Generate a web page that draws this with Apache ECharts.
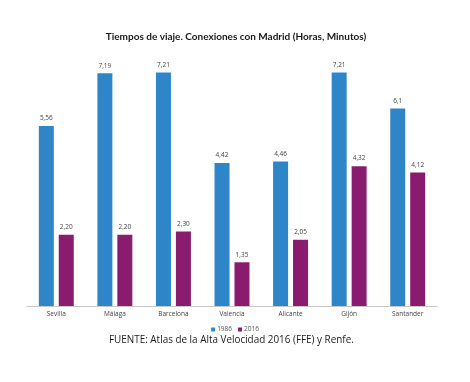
<!DOCTYPE html>
<html><head><meta charset="utf-8">
<script src="https://cdn.jsdelivr.net/npm/echarts@6/dist/echarts.min.js"></script>
<style>html,body{margin:0;padding:0;background:#fff}#c{width:470px;height:382px}</style>
</head><body><div id="c"></div>
<script>
const categories = ['Sevilla','Málaga','Barcelona','Valencia','Alicante','Gijón','Santander'];
const values1986 = [5.56, 7.19, 7.21, 4.42, 4.46, 7.21, 6.1];
const values2016 = [2.20, 2.20, 2.30, 1.35, 2.05, 4.32, 4.12];
const labels1986 = ['5,56','7,19','7,21','4,42','4,46','7,21','6,1'];
const labels2016 = ['2,20','2,20','2,30','1,35','2,05','4,32','4,12'];
const seriesNames = ['1986','2016'];

const chart = echarts.init(document.getElementById('c'));
const lblStyle = {show:true, position:'top', distance:4, fontSize:6.5, color:'#444', fontFamily:'Open Sans'};
chart.setOption({
  animation:false,
  title:{text:'Tiempos de viaje. Conexiones con Madrid (Horas, Minutos)', left:231, textAlign:'center', top:27,
    textStyle:{fontSize:10, fontWeight:'bold', color:'#1a1a1a', fontFamily:'Lato'}},
  legend:{data:seriesNames, left:'center', top:321, itemWidth:4, itemHeight:4, itemGap:6,
    textStyle:{fontSize:6.5, color:'#555', fontFamily:'Open Sans', padding:[0,0,0,-3]}, icon:'rect'},
  grid:{left:27, right:33, top:47, bottom:76},
  xAxis:{type:'category', data:categories, axisTick:{show:false},
    axisLine:{lineStyle:{color:'#c8c8c8', width:1}},
    axisLabel:{fontSize:6.5, color:'#444', margin:5, fontFamily:'Open Sans'}},
  yAxis:{type:'value', min:0, max:8, show:false, splitLine:{show:false}},
  series:[
    {name:seriesNames[0], type:'bar', data:values1986, barWidth:15, barGap:'33%', itemStyle:{color:'#2e86c8'},
      label:Object.assign({}, lblStyle, {formatter:p=>labels1986[p.dataIndex]})},
    {name:seriesNames[1], type:'bar', data:values2016, barWidth:15, itemStyle:{color:'#8a1c70'},
      label:Object.assign({}, lblStyle, {formatter:p=>labels2016[p.dataIndex]})}
  ],
  graphic:[{type:'text', x:109, y:334, scaleX:0.86, style:{text:'FUENTE: Atlas de la Alta Velocidad 2016 (FFE) y Renfe.',
    fontSize:11.5, fill:'#1a1a1a', fontFamily:'Open Sans'}}]
});
</script></body></html>
